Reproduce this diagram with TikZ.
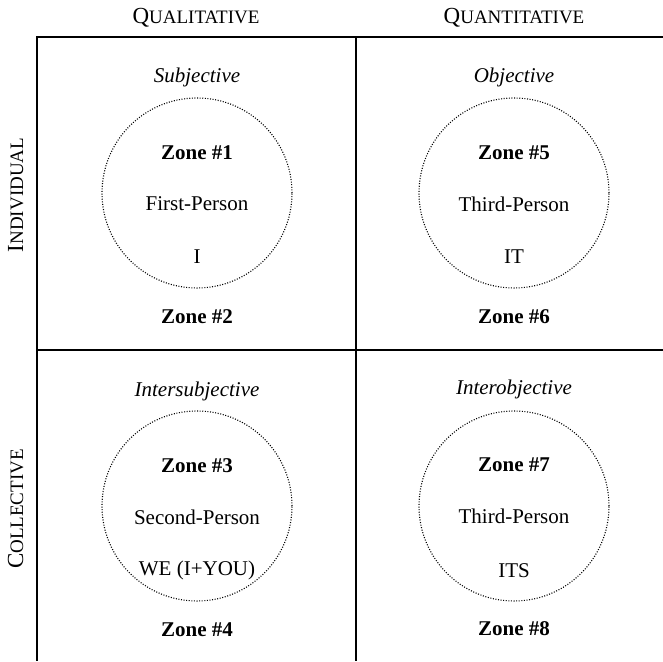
\documentclass[tikz,border=0pt]{standalone}
\usepackage{fontspec}
\setmainfont{Liberation Serif}
% hand-made small capitals: large initial, smaller remaining capitals
\newcommand{\fsc}[2]{{\fontsize{23}{26}\selectfont #1}{\fontsize{19}{22}\selectfont #2}}
\begin{document}
\begin{tikzpicture}[x=1pt,y=1pt,
  grid/.style={line width=1.4pt, black},
  zonecircle/.style={draw, line width=1.1pt, dash pattern=on 1pt off 1.6pt, circle, minimum size=190pt, inner sep=0pt},
  txt/.style={font=\fontsize{21}{24}\selectfont, inner sep=0pt, anchor=center},
  zone/.style={txt, font=\fontsize{21}{24}\selectfont\bfseries},
  quality/.style={txt, font=\fontsize{21}{24}\selectfont\itshape},
  header/.style={inner sep=0pt, anchor=base}]
\useasboundingbox (0,0) rectangle (663,661);

% grid coordinates
\coordinate (tl) at (37,624);
\coordinate (tr) at (663,624);
\coordinate (bl) at (37,0);
\coordinate (tm) at (356,624);
\coordinate (bm) at (356,0);
\coordinate (ml) at (37,311);
\coordinate (mr) at (663,311);

\draw[grid] (tr) -- (tl) -- (bl);
\draw[grid] (tm) -- (bm);
\draw[grid] (ml) -- (mr);

% column and row headers
\node[header] (hql) at (196,637) {\fsc{Q}{UALITATIVE}};
\node[header] (hqn) at (514,637) {\fsc{Q}{UANTITATIVE}};
\node[header, rotate=90] (hind) at (23,466) {\fsc{I}{NDIVIDUAL}};
\node[header, rotate=90] (hcol) at (23,152) {\fsc{C}{OLLECTIVE}};

% upper left quadrant
\node[quality] (q1) at (197,584) {Subjective};
\node[zonecircle] (c1) at (197,468) {};
\node[zone] (z1) at (197,508) {Zone \#1};
\node[txt] (p1) at (197,457) {First-Person};
\node[txt] (w1) at (197,404) {I};
\node[zone] (z2) at (197,344) {Zone \#2};

% upper right quadrant
\node[quality] (q2) at (514,584) {Objective};
\node[zonecircle] (c2) at (514,468) {};
\node[zone] (z5) at (514,508) {Zone \#5};
\node[txt] (p2) at (514,457) {Third-Person};
\node[txt] (w2) at (514,404) {IT};
\node[zone] (z6) at (514,344) {Zone \#6};

% lower left quadrant
\node[quality] (q3) at (197,270) {Intersubjective};
\node[zonecircle] (c3) at (197,155) {};
\node[zone] (z3) at (197,195) {Zone \#3};
\node[txt] (p3) at (197,144) {Second-Person};
\node[txt] (w3) at (197,91) {WE (I+YOU)};
\node[zone] (z4) at (197,31) {Zone \#4};

% lower right quadrant
\node[quality] (q4) at (514,272) {Interobjective};
\node[zonecircle] (c4) at (514,155) {};
\node[zone] (z7) at (514,196) {Zone \#7};
\node[txt] (p4) at (514,145) {Third-Person};
\node[txt] (w4) at (514,90) {ITS};
\node[zone] (z8) at (514,32) {Zone \#8};
\end{tikzpicture}
\end{document}
